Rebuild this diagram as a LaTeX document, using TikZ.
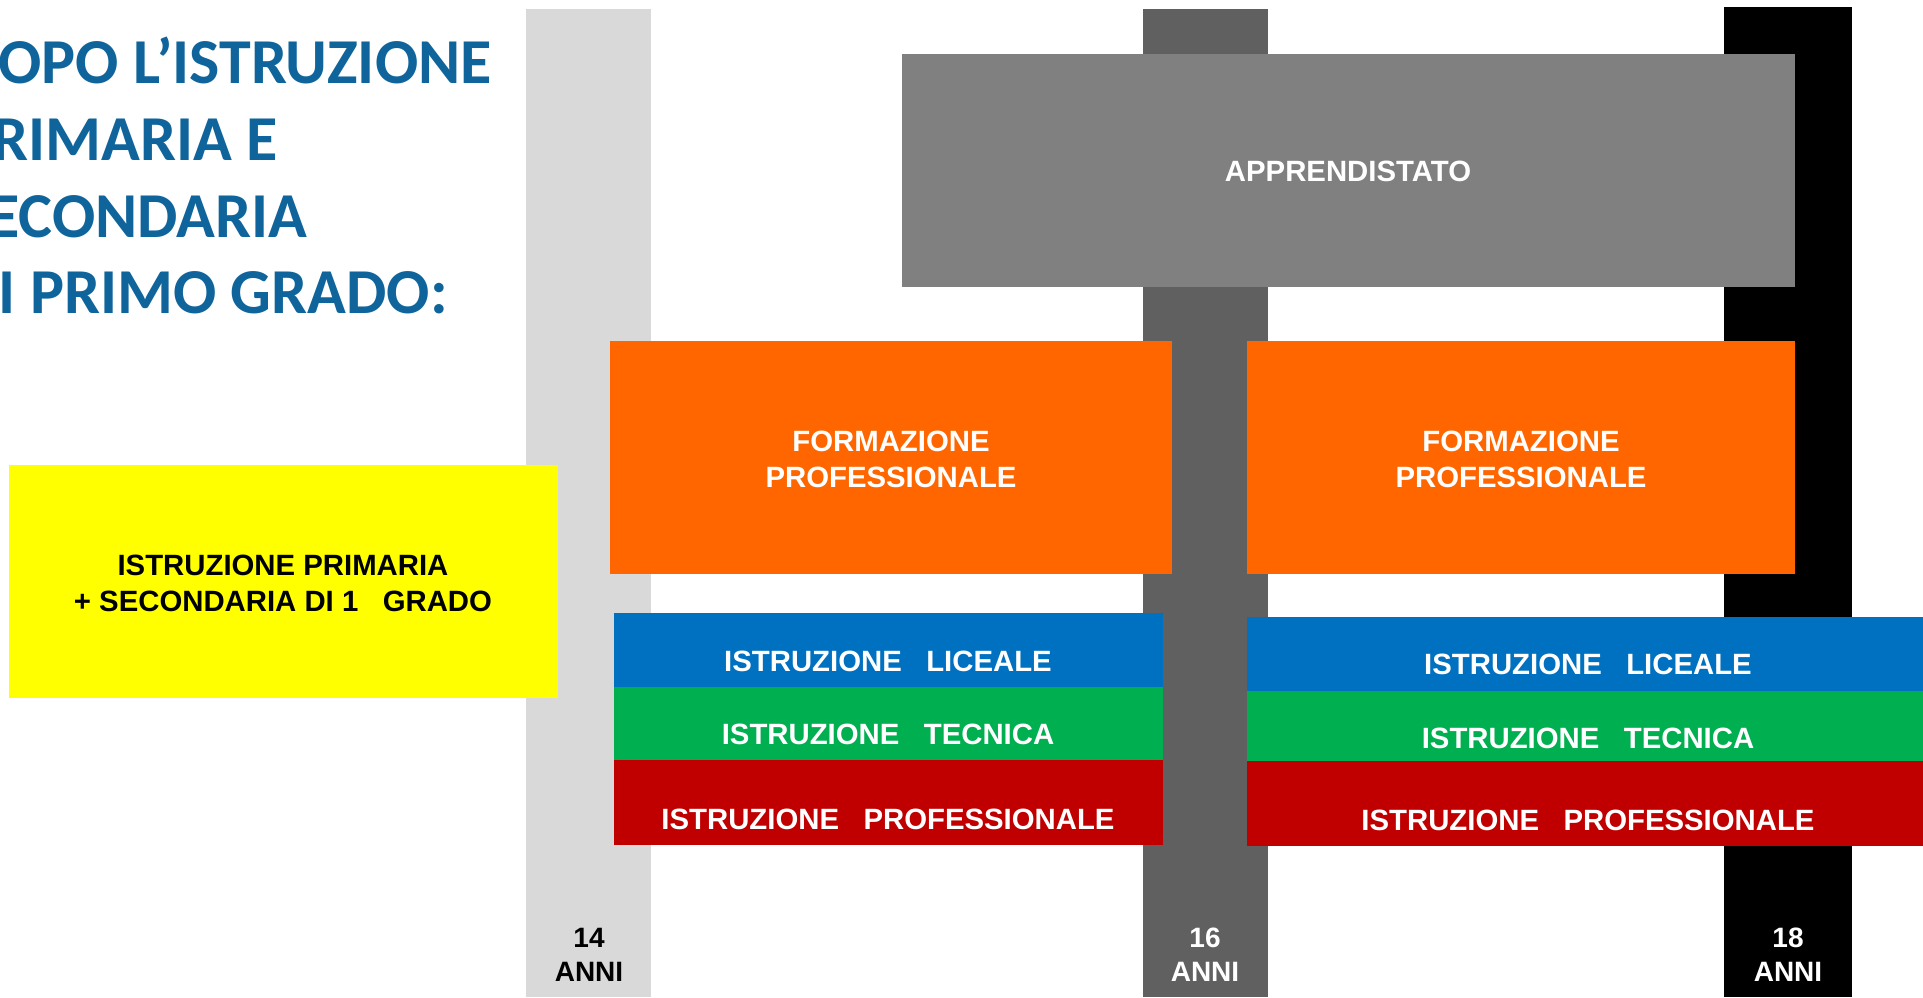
\documentclass[tikz,border=0pt]{standalone}
\usepackage{fontspec}
\setmainfont{Liberation Sans}
\newfontfamily\titlefont{Carlito}
\definecolor{cLight}{HTML}{D9D9D9}
\definecolor{cDark}{HTML}{606060}
\definecolor{cAppr}{HTML}{808080}
\definecolor{cOrange}{HTML}{FF6600}
\definecolor{cYellow}{HTML}{FFFF00}
\definecolor{cBlue}{HTML}{0070C0}
\definecolor{cGreen}{HTML}{00B050}
\definecolor{cRed}{HTML}{C00000}
\definecolor{cTitle}{HTML}{0F659B}
\begin{document}
\begin{tikzpicture}[x=0.75pt,y=-0.75pt,
  txt/.style={inner sep=0pt, font=\fontsize{22}{27}\selectfont\bfseries, text=white, align=center},
  agetxt/.style={inner sep=0pt, font=\fontsize{21}{25.5}\selectfont\bfseries, align=center},
  titletxt/.style={inner sep=0pt, font=\titlefont\fontsize{48}{57.5}\selectfont\bfseries, text=cTitle, align=left}
]
\useasboundingbox (0,0) rectangle (1923,997);
\clip (0,0) rectangle (1923,997);
\fill[white] (0,0) rectangle (1923,997);
% age bars
\fill[cLight] (526,9) rectangle (651,997);
\fill[cDark] (1143,9) rectangle (1268,997);
\fill[black] (1724,7) rectangle (1852,997);
% boxes
\fill[cAppr] (902,54) rectangle (1795,287);
\fill[cOrange] (610,341) rectangle (1172,574);
\fill[cOrange] (1247,341) rectangle (1795,574);
\fill[cYellow] (9,465) rectangle (558,698);
\fill[cBlue] (614,613) rectangle (1163,687);
\fill[cGreen] (614,687) rectangle (1163,760);
\fill[cRed] (614,760) rectangle (1163,845);
\fill[cBlue] (1247,617) rectangle (1923,691);
\fill[cGreen] (1247,691) rectangle (1923,761);
\fill[cRed] (1247,761) rectangle (1923,846);
% title
\node[titletxt, anchor=north west] (title) at (-42,37) {DOPO L’ISTRUZIONE\\PRIMARIA E\\SECONDARIA\\DI PRIMO GRADO:};
% labels
\node[txt, anchor=base] (appr) at (1348,181) {APPRENDISTATO};
\node[txt] (form1) at (891,459) {FORMAZIONE\\PROFESSIONALE};
\node[txt] (form2) at (1521,459) {FORMAZIONE\\PROFESSIONALE};
\node[txt, text=black] (prim) at (283,583) {ISTRUZIONE PRIMARIA\\+ SECONDARIA DI 1~~~GRADO};
\node[txt, anchor=base] (lic1) at (888,671) {ISTRUZIONE~~~LICEALE};
\node[txt, anchor=base] (tec1) at (888,744) {ISTRUZIONE~~~TECNICA};
\node[txt, anchor=base] (pro1) at (888,829) {ISTRUZIONE~~~PROFESSIONALE};
\node[txt, anchor=base] (lic2) at (1588,674) {ISTRUZIONE~~~LICEALE};
\node[txt, anchor=base] (tec2) at (1588,748) {ISTRUZIONE~~~TECNICA};
\node[txt, anchor=base] (pro2) at (1588,830) {ISTRUZIONE~~~PROFESSIONALE};
% ages
\node[agetxt, text=black] (a14) at (589,954.5) {14\\ANNI};
\node[agetxt, text=white] (a16) at (1205,954.5) {16\\ANNI};
\node[agetxt, text=white] (a18) at (1788,954.5) {18\\ANNI};
\end{tikzpicture}
\end{document}
